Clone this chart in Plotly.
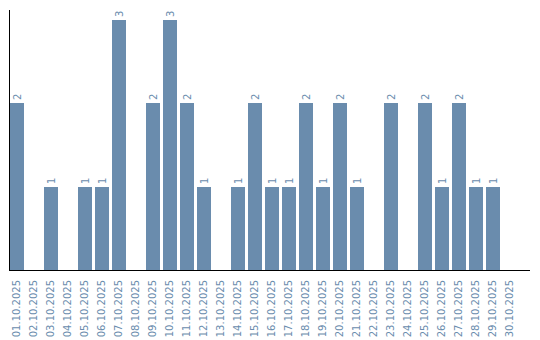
import plotly.graph_objects as go

dates = ["01.10.2025", "02.10.2025", "03.10.2025", "04.10.2025", "05.10.2025",
         "06.10.2025", "07.10.2025", "08.10.2025", "09.10.2025", "10.10.2025",
         "11.10.2025", "12.10.2025", "13.10.2025", "14.10.2025", "15.10.2025",
         "16.10.2025", "17.10.2025", "18.10.2025", "19.10.2025", "20.10.2025",
         "21.10.2025", "22.10.2025", "23.10.2025", "24.10.2025", "25.10.2025",
         "26.10.2025", "27.10.2025", "28.10.2025", "29.10.2025", "30.10.2025"]
counts = [2, 0, 1, 0, 1, 1, 3, 0, 2, 3,
          2, 1, 0, 1, 2, 1, 1, 2, 1, 2,
          1, 0, 2, 0, 2, 1, 2, 1, 1, 0]

color = "#6a8cad"
labels = [str(v) if v else "" for v in counts]

fig = go.Figure(go.Bar(
    x=list(range(len(dates))), y=counts, width=14/17,
    marker=dict(color=color, line=dict(width=0)),
    text=labels, textposition="outside", textangle=-90,
    textfont=dict(family="DejaVu Sans", size=10, color=color),
    cliponaxis=False,
))

fig.update_layout(
    width=540, height=340,
    margin=dict(l=10, r=10, t=10, b=70, autoexpand=False),
    paper_bgcolor="white", plot_bgcolor="white",
    showlegend=False,
    bargap=0,
    xaxis=dict(
        tickmode="array", tickvals=list(range(len(dates))), ticktext=dates,
        tickangle=-90, range=[-0.41, 30.18], automargin=False,
        tickfont=dict(family="DejaVu Sans", size=10, color=color),
        ticklabelstandoff=5,
        showline=True, linecolor="black", linewidth=1,
        showgrid=False, zeroline=False, ticks="",
    ),
    yaxis=dict(
        range=[0, 3.12], showticklabels=False, automargin=False,
        showline=True, linecolor="black", linewidth=1,
        showgrid=False, zeroline=False, ticks="",
    ),
)

fig.write_html("out.html")
